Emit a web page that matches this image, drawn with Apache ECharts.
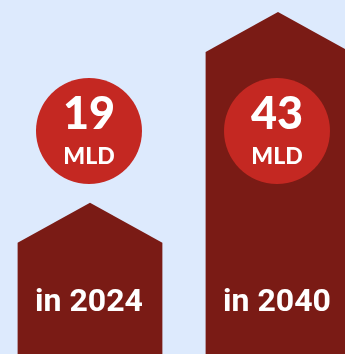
<!DOCTYPE html>
<html>
<head>
<meta charset="utf-8">
<script src="https://cdn.jsdelivr.net/npm/echarts@6/dist/echarts.min.js"></script>
<style>
  html, body { margin: 0; padding: 0; background: #ddeafd; }
  #chart { width: 345px; height: 354px; }
</style>
</head>
<body>
<div id="chart"></div>
<script>
var categories = ['in 2024', 'in 2040'];
var values = [19, 43];
var unit = 'MLD';

var chart = echarts.init(document.getElementById('chart'));

// bars drawn as "houses": rectangle with a triangular roof, plus a value badge
function renderHouse(params, api) {
  var i = api.value(0);
  var peak = api.coord([i, api.value(1)]);
  var base = api.coord([i, 0]);
  var half = api.size([1, 0])[0] * 0.385;
  var roof = 40;
  var cx = peak[0];
  var badgeY = 131;
  return {
    type: 'group',
    children: [
      {
        type: 'polygon',
        shape: {
          points: [
            [cx - half, base[1]],
            [cx - half, peak[1] + roof],
            [cx, peak[1]],
            [cx + half, peak[1] + roof],
            [cx + half, base[1]]
          ]
        },
        style: { fill: '#7a1b15' }
      },
      {
        type: 'circle',
        shape: { cx: cx - 1, cy: badgeY, r: 53 },
        style: { fill: '#c42822' }
      },
      {
        type: 'text',
        x: cx - 1, y: badgeY - 17,
        style: {
          text: String(api.value(1)), fill: '#fff', align: 'center', verticalAlign: 'middle',
          fontSize: 45, fontWeight: 900, fontFamily: 'Lato'
        }
      },
      {
        type: 'text',
        x: cx - 1, y: badgeY + 26,
        style: {
          text: unit, fill: '#fff', align: 'center', verticalAlign: 'middle',
          fontSize: 23, fontWeight: 900, fontFamily: 'Lato'
        }
      },
      {
        type: 'text',
        x: cx - 1, y: 303,
        style: {
          text: categories[i], fill: '#fff', align: 'center', verticalAlign: 'middle',
          fontSize: 32, fontWeight: 'bold', fontFamily: 'Roboto'
        }
      }
    ]
  };
}

chart.setOption({
  backgroundColor: '#ddeafd',
  animation: false,
  grid: { left: 0, right: 0, top: 0, bottom: 0 },
  xAxis: { type: 'value', min: -0.4787, max: 1.3564, show: false },
  yAxis: { type: 'value', min: 0, max: 44.5, show: false },
  series: [
    {
      type: 'custom',
      renderItem: renderHouse,
      data: values.map(function (v, i) { return [i, v]; })
    }
  ]
});
</script>
</body>
</html>
